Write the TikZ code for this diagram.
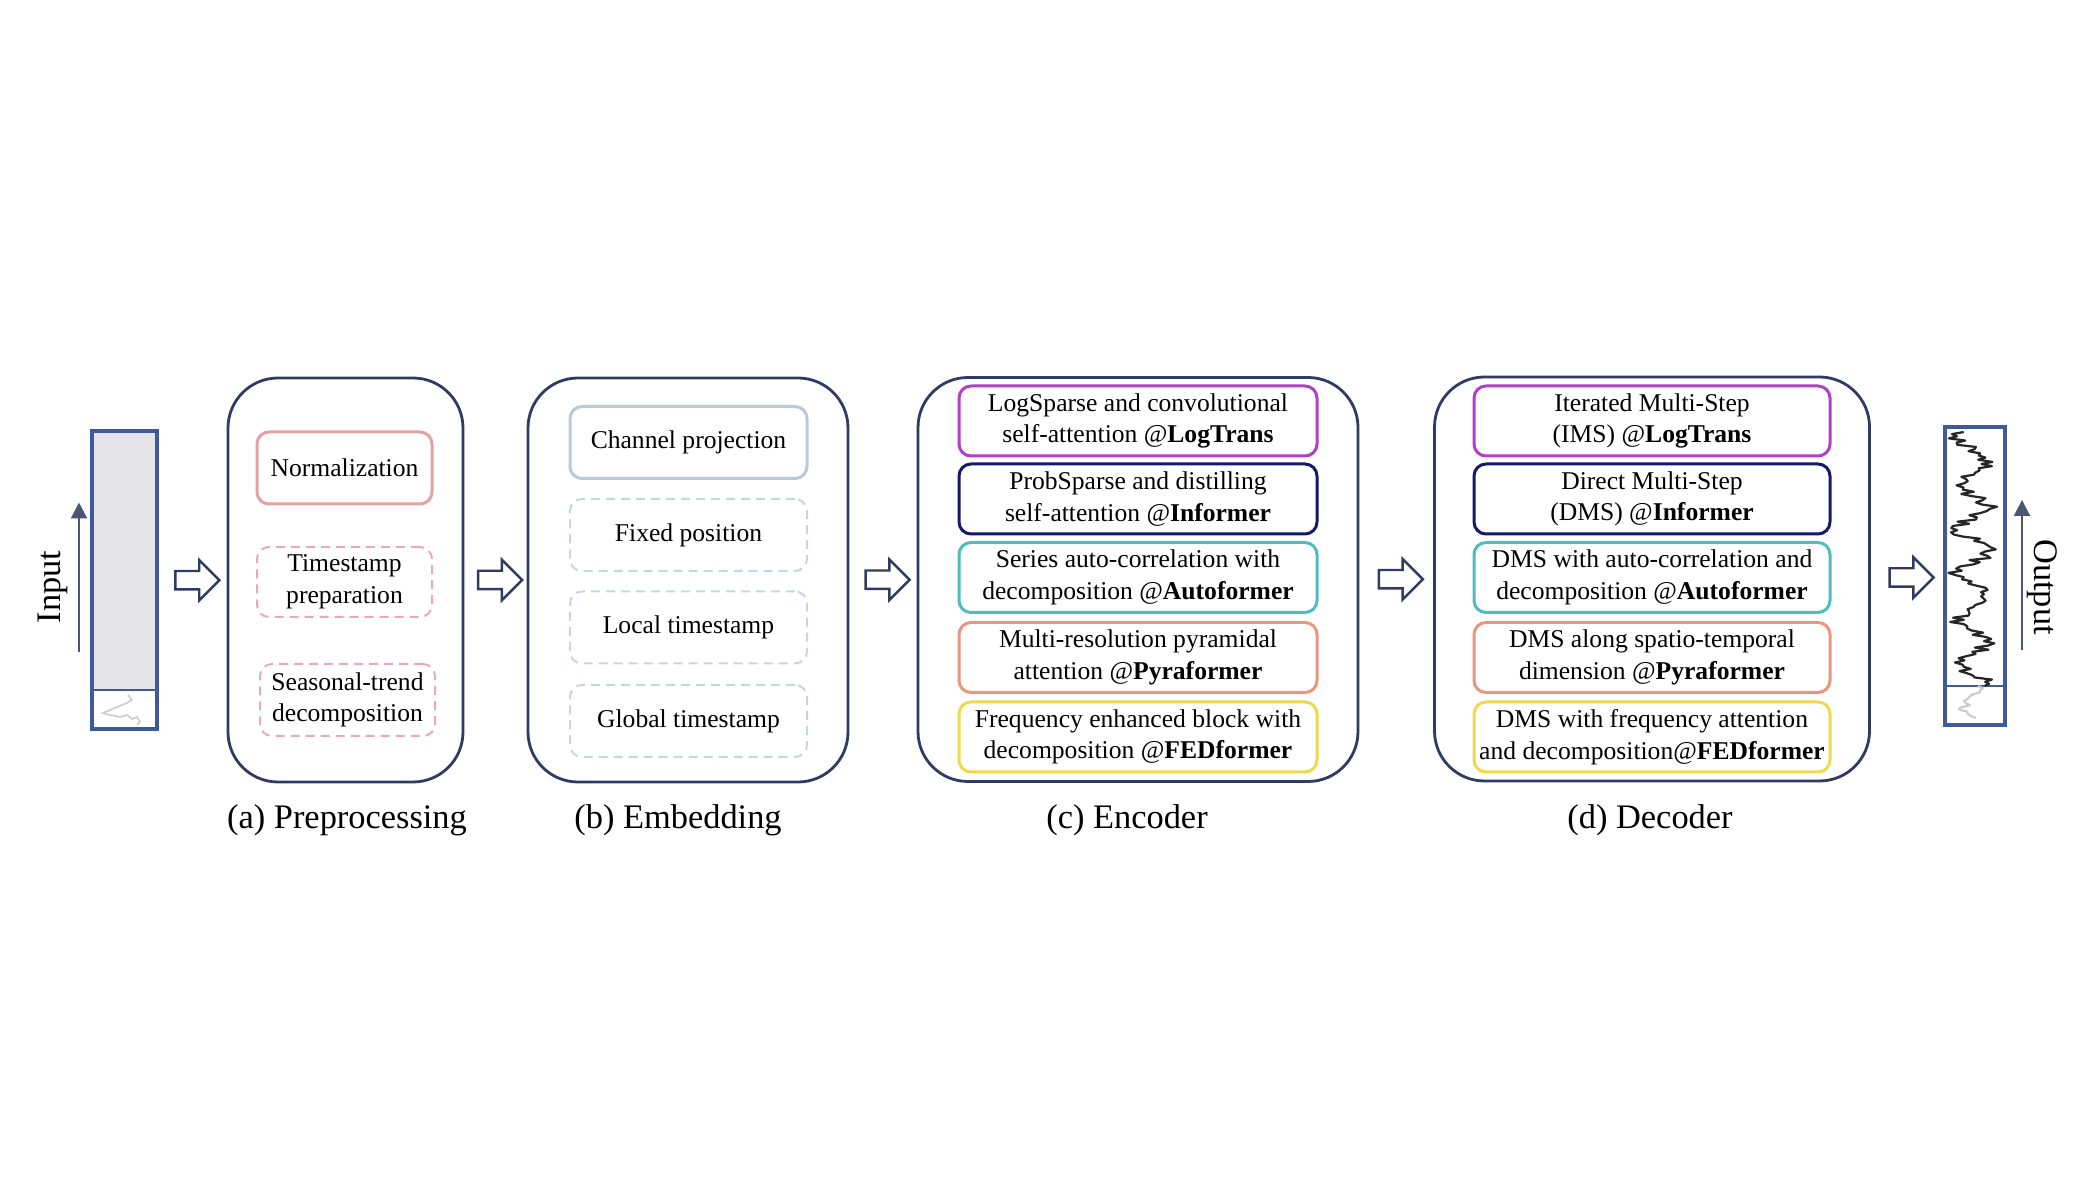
\documentclass[tikz,border=0pt]{standalone}
\usepackage{fontspec}
\setmainfont{Liberation Serif}
\usetikzlibrary{shapes.arrows,arrows.meta,calc}

\definecolor{boxc}{HTML}{2F3B63}
\definecolor{barblue}{HTML}{3E5A9A}
\definecolor{barfill}{HTML}{E4E4E8}
\definecolor{tarc}{HTML}{4B5670}
\definecolor{normc}{HTML}{E3A2A2}
\definecolor{prepc}{HTML}{E8AAB6}
\definecolor{chanc}{HTML}{B9C9DC}
\definecolor{embc}{HTML}{C8D4E4}
\definecolor{logc}{HTML}{B13FC7}
\definecolor{infc}{HTML}{16186B}
\definecolor{autoc}{HTML}{4DBDC1}
\definecolor{pyrc}{HTML}{E8967C}
\definecolor{fedc}{HTML}{EED84C}

\begin{document}
\begin{tikzpicture}[x=0.5pt,y=-0.5pt,
    capt/.style={font=\fontsize{17.2}{20}\selectfont},
    panel/.style={draw=boxc, line width=1.4pt, rounded corners=25pt, minimum width=#1, minimum height=202pt, inner sep=0pt},
    inbox/.style={draw=#1, line width=1.5pt, rounded corners=6pt, align=center, inner sep=0pt, font=\fontsize{12.8}{15.8}\selectfont},
    dbox/.style={inbox=#1, line width=1pt, dash pattern=on 4.5pt off 3pt},
    seqbar/.style={draw=barblue, line width=2pt, minimum width=31pt, minimum height=149pt, inner sep=0pt},
    harrow/.style={single arrow, draw=boxc, line width=1.2pt, minimum height=22pt, minimum width=0pt, single arrow head extend=5.5pt, single arrow tip angle=90, inner xsep=0pt, inner ysep=4pt},
    tarrow/.style={draw=tarc, line width=1pt, -{Triangle[length=8pt,width=8pt]}}]
    \useasboundingbox (0,0) rectangle (2078,1202);

    \node[seqbar, minimum width=32.5pt, path picture={
        \fill[barfill] (path picture bounding box.north west) rectangle ([yshift=19.5pt]path picture bounding box.south east);
        \draw[barblue, line width=1pt] ([yshift=19.5pt]path picture bounding box.south west) -- ([yshift=19.5pt]path picture bounding box.south east);
    }] (in) at (124.5,580.5) {};
    \node[seqbar, minimum width=30pt, path picture={
        \draw[barblue, line width=1pt] ([yshift=19.5pt]path picture bounding box.south west) -- ([yshift=19.5pt]path picture bounding box.south east);
    }] (out) at (1975,576) {};
    \draw[gray!40, line width=0.8pt] plot coordinates {(128,695) (132,700) (127,703) (122,705) (110,710) (103,713) (110,715) (120,717) (127,715) (132,719) (137,717) (140,722) (137,725)};
    \pgfmathsetseed{5}
    \draw[black!85, line width=1.1pt, line join=round] plot[domain=432:686, samples=120] ({1973+15*sin(8*\x)+10*rand}, \x);
    \draw[gray!40, line width=1.1pt, line join=round] plot[domain=686:718, samples=16] ({1973+10*sin(8*\x)+6*rand}, \x);

    \node[capt, rotate=90] (inlab) at (53,587) {Input};
    \node[capt, rotate=-90] (outlab) at (2042,587) {Output};
    \draw[tarrow] ([xshift=-5.5pt,yshift=-36pt]in.west) -- ([xshift=-5.5pt,yshift=39pt]in.west);
    \draw[tarrow] ([xshift=7.5pt,yshift=-37pt]out.east) -- ([xshift=7.5pt,yshift=38pt]out.east);

    \node[panel=117.5pt] (pre) at (345.5,580) {};
    \node[panel=160pt] (emb) at (688,580) {};
    \node[panel=220pt] (enc) at (1138,579.5) {};
    \node[panel=217.5pt] (dec) at (1652,579) {};

    \node[inbox=normc, minimum width=87.5pt, minimum height=36pt] (norm) at (344.5,468) {Normalization};
    \node[dbox=prepc, minimum width=87.5pt, minimum height=35pt] (tsp) at (344.5,582) {Timestamp\\preparation};
    \node[dbox=prepc, minimum width=87.5pt, minimum height=36pt] (std) at (347.5,700) {Seasonal-trend\\decomposition};

    \node[inbox=chanc, minimum width=118.5pt, minimum height=36pt] (chan) at (688.5,442.5) {Channel projection};
    \foreach \i/\y/\t in {1/535/Fixed position, 2/627.5/Local timestamp, 3/721/Global timestamp} {
        \node[dbox=embc, minimum width=118.5pt, minimum height=36pt] (emb\i) at (688.5,\y) {\t};
    }

    \foreach \i/\y/\c/\t in {1/421/logc/{LogSparse and convolutional\\self-attention @\textbf{LogTrans}},
                             2/499/infc/{ProbSparse and distilling\\self-attention @\textbf{Informer}},
                             3/577.5/autoc/{Series auto-correlation with\\decomposition @\textbf{Autoformer}},
                             4/657.5/pyrc/{Multi-resolution pyramidal\\attention @\textbf{Pyraformer}},
                             5/737/fedc/{Frequency enhanced block with\\decomposition @\textbf{FEDformer}}} {
        \node[inbox=\c, minimum width=179pt, minimum height=35pt] (enc\i) at (1138,\y) {\t};
    }
    \foreach \i/\y/\c/\t in {1/421/logc/{Iterated Multi-Step\\(IMS) @\textbf{LogTrans}},
                             2/499/infc/{Direct Multi-Step\\(DMS) @\textbf{Informer}},
                             3/577.5/autoc/{DMS with auto-correlation and\\decomposition @\textbf{Autoformer}},
                             4/657.5/pyrc/{DMS along spatio-temporal\\dimension @\textbf{Pyraformer}},
                             5/737/fedc/{DMS with frequency attention\\and decomposition@\textbf{FEDformer}}} {
        \node[inbox=\c, minimum width=178pt, minimum height=35pt] (dec\i) at (1652,\y) {\t};
    }

    \node[harrow] (a1) at ($(in.east)!0.5!(pre.west)$) {};
    \node[harrow] (a2) at ($(pre.east)!0.5!(emb.west)$) {};
    \node[harrow] (a3) at ($(emb.east)!0.5!(enc.west)$) {};
    \node[harrow] (a4) at ($(enc.east)!0.5!(dec.west)$) {};
    \node[harrow] (a5) at ($(dec.east)!0.5!(out.west)$) {};

    \node[capt] (capa) at (347,820) {(a) Preprocessing};
    \node[capt] (capb) at (678,820) {(b) Embedding};
    \node[capt] (capc) at (1127,820) {(c) Encoder};
    \node[capt] (capd) at (1650,820) {(d) Decoder};
\end{tikzpicture}
\end{document}
